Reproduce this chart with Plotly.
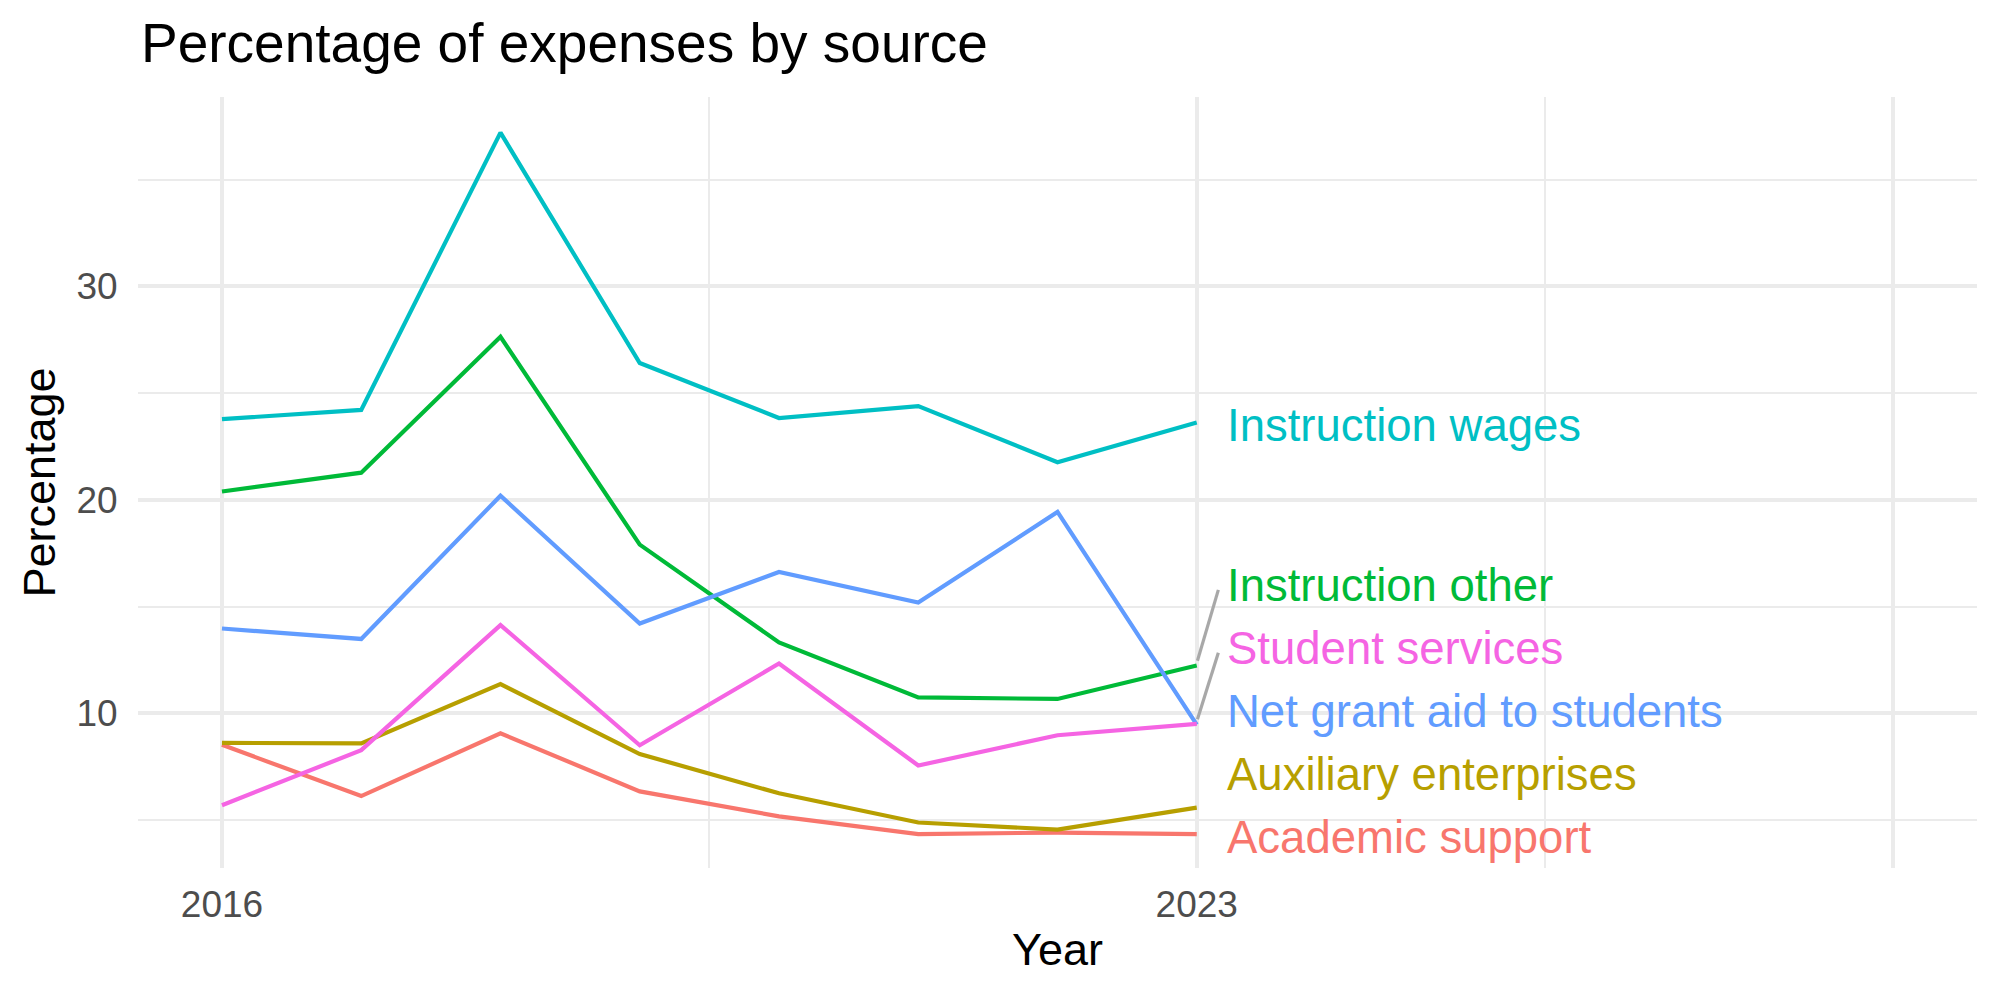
import plotly.graph_objects as go

years = [2016, 2017, 2018, 2019, 2020, 2021, 2022, 2023]

series_names = [
    "Academic support",
    "Auxiliary enterprises",
    "Instruction other",
    "Instruction wages",
    "Net grant aid to students",
    "Student services",
]
academic_support = [8.52, 6.12, 9.06, 6.34, 5.17, 4.34, 4.41, 4.34]
auxiliary_enterprises = [8.61, 8.59, 11.37, 8.09, 6.25, 4.88, 4.55, 5.58]
instruction_other = [20.39, 21.27, 27.64, 17.90, 13.32, 10.74, 10.67, 12.24]
instruction_wages = [23.78, 24.21, 37.20, 26.41, 23.83, 24.39, 21.76, 23.62]
net_grant_aid = [13.97, 13.48, 20.19, 14.20, 16.62, 15.19, 19.43, 9.47]
student_services = [5.69, 8.27, 14.13, 8.50, 12.33, 7.55, 8.97, 9.50]

series_values = [
    academic_support,
    auxiliary_enterprises,
    instruction_other,
    instruction_wages,
    net_grant_aid,
    student_services,
]
colors = ["#F8766D", "#B79F00", "#00BA38", "#00BFC4", "#619CFF", "#F564E3"]

x_tickvals = [2016, 2023, 2028]
x_ticktext = ["2016", "2023", ""]
y_tickvals = [10, 20, 30]

FONT = "Liberation Sans, Arial, sans-serif"
GRID = "#EBEBEB"

fig = go.Figure()
for name, vals, col in zip(series_names, series_values, colors):
    fig.add_trace(go.Scatter(x=years, y=vals, mode="lines", name=name,
                             line=dict(color=col, width=4.2), hoverinfo="skip"))

# simple label repel: push labels up from the bottom with a minimum gap
last = [(v[-1], i) for i, v in enumerate(series_values)]
last.sort()
gap = 2.95
label_y = {}
prev = None
for val, i in last:
    y = val if prev is None else max(val, prev + gap)
    label_y[i] = y
    prev = y

x_end = years[-1]
annotations = []
shapes = []
for i, (name, vals, col) in enumerate(zip(series_names, series_values, colors)):
    ly = label_y[i]
    annotations.append(dict(x=x_end + 0.2, y=ly, xref="x", yref="y", text=name,
                            showarrow=False, xanchor="left", yanchor="middle", yshift=-3,
                            font=dict(family=FONT, size=45.5, color=col)))
    d = ly - vals[-1]
    if abs(d) > 2.0:
        s = 1 if d > 0 else -1
        shapes.append(dict(type="line", xref="x", yref="y",
                           x0=x_end + 0.005, y0=vals[-1] + 0.22 * s,
                           x1=x_end + 0.155, y1=ly - 0.36 * s,
                           line=dict(color="#A8A8A8", width=3.2), layer="above"))

fig.update_layout(
    width=2000, height=1000,
    margin=dict(l=138, r=23, t=97, b=132),
    paper_bgcolor="white", plot_bgcolor="white",
    showlegend=False, hovermode=False,
    annotations=annotations, shapes=shapes,
    title=dict(text="Percentage of expenses by source", x=141 / 2000, xanchor="left",
               xref="container", yref="container", y=1 - 43 / 1000, yanchor="middle",
               font=dict(family=FONT, size=55, color="black")),
    xaxis=dict(range=[2015.397, 2028.603], tickvals=x_tickvals, ticktext=x_ticktext,
               showgrid=True, gridcolor=GRID, gridwidth=4, zeroline=False, showline=False,
               ticks="outside", ticklen=4, tickcolor="rgba(0,0,0,0)",
               tickfont=dict(family=FONT, size=37, color="#4D4D4D"),
               minor=dict(tickvals=[2019.5, 2025.5], showgrid=True, gridcolor=GRID,
                          gridwidth=2, ticks=""),
               title=dict(text="Year", font=dict(family=FONT, size=45, color="black"),
                          standoff=9)),
    yaxis=dict(range=[2.75, 38.87], tickvals=y_tickvals,
               showgrid=True, gridcolor=GRID, gridwidth=4, zeroline=False, showline=False,
               ticks="outside", ticklen=12, tickcolor="rgba(0,0,0,0)",
               tickfont=dict(family=FONT, size=37, color="#4D4D4D"),
               minor=dict(tickvals=[5, 15, 25, 35], showgrid=True, gridcolor=GRID,
                          gridwidth=2, ticks=""),
               title=dict(text="Percentage", font=dict(family=FONT, size=45, color="black"),
                          standoff=6)),
)

fig.write_html("out.html")
